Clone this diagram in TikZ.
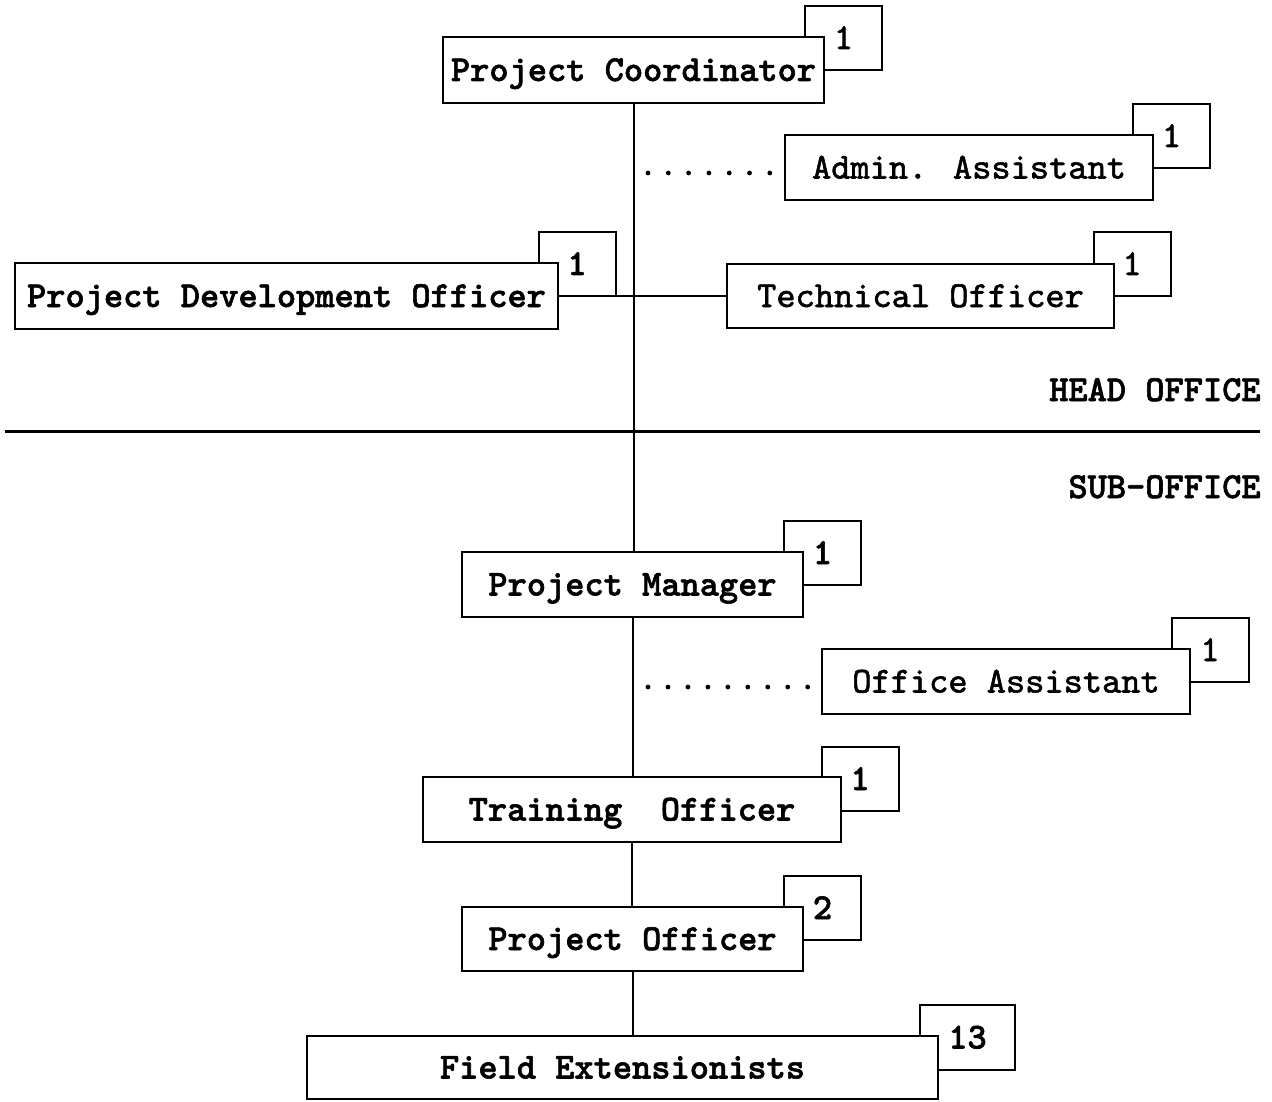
\documentclass[tikz,border=0pt]{standalone}
\usepackage{fontspec}
\newfontfamily\lmttmed[FakeBold=1.6]{lmmono10-regular.otf}
\newfontfamily\lmttbold[FakeBold=1.6]{lmmonolt10-bold.otf}
\tikzset{
  x=0.5pt, y=-0.5pt,
  basebox/.style={draw, line width=1pt, fill=white, inner sep=0pt, text height=11pt, text depth=0pt},
  mainbold/.style={basebox, font=\fontsize{18.3}{22}\selectfont\lmttbold},
  mainmed/.style={basebox, font=\fontsize{18.3}{22}\selectfont\lmttmed},
  cntbold/.style={mainbold, minimum width=38.5pt, minimum height=32pt},
  cntmed/.style={mainmed, minimum width=38.5pt, minimum height=32pt},
  conn/.style={line width=1pt},
  dotconn/.style={line width=2.4pt, line cap=round},
  sectionlabel/.style={font=\fontsize{18.3}{22}\selectfont\lmttbold, inner sep=0pt, anchor=base east}
}
\begin{document}
\begin{tikzpicture}
\useasboundingbox (0,0) rectangle (1272,1101);

% count boxes (behind)
\node[cntmed]  (cPC)  at (843.5,38)  {1};
\node[cntmed]  (cAA)  at (1171.5,136) {1};
\node[cntbold] (cPDO) at (577,264)   {1};
\node[cntmed]  (cTO)  at (1132,264)  {1};
\node[cntbold] (cPM)  at (822.5,553) {1};
\node[cntmed]  (cOA)  at (1210,650)  {1};
\node[cntbold] (cTrO) at (860,779)   {1};
\node[cntbold] (cPO)  at (822.5,908) {2};
\node[cntbold, minimum width=47.5pt, minimum height=32.5pt] (cFE) at (967.5,1037.5) {13};

% main boxes
\node[mainbold, minimum width=190.5pt, minimum height=33pt]   (PC)  at (633.5,70)    {Project Coordinator};
\node[mainmed,  minimum width=184pt,   minimum height=32.5pt] (AA)  at (969,167.5)   {Admin. Assistant};
\node[mainbold, minimum width=271.5pt, minimum height=33pt]   (PDO) at (286.5,296)   {Project Development Officer};
\node[mainmed,  minimum width=193.5pt, minimum height=32pt]   (TO)  at (920.5,296)   {Technical Officer};
\node[mainbold, minimum width=170.5pt, minimum height=32.5pt] (PM)  at (632.5,584.5) {Project Manager};
\node[mainmed,  minimum width=184pt,   minimum height=32.5pt] (OA)  at (1006,681.5)  {Office Assistant};
\node[mainbold, minimum width=209pt,   minimum height=32.5pt] (TrO) at (632,809.5)   {Training\ \ Officer};
\node[mainbold, minimum width=170.5pt, minimum height=32pt]   (PO)  at (632.5,939)   {Project Officer};
\node[mainbold, minimum width=315.5pt, minimum height=31.5pt] (FE)  at (622.5,1067.5) {Field Extensionists};

% trunk
\draw[conn] (PC.south) -- (PC.south |- PM.north);
\draw[conn] (PM.south) -- (PM.south |- TrO.north);
\draw[conn] (TrO.south) -- (TrO.south |- PO.north);
\draw[conn] (PO.south) -- (PO.south |- FE.north);

% side branch
\draw[conn] (PDO.east) -- (TO.west);

% dotted links
\coordinate (jAA) at (633,173);
\coordinate (jOA) at (633,687);
\draw[dotconn, dash pattern=on 0pt off 10.15pt, shorten <=7.5pt, shorten >=6.5pt] (jAA) -- (AA.west |- jAA);
\draw[dotconn, dash pattern=on 0pt off 9.98pt, shorten <=7.5pt, shorten >=6pt] (jOA) -- (OA.west |- jOA);

% separator
\coordinate (sepL) at (5,431);
\coordinate (sepR) at (1260,431);
\draw[line width=1.5pt] (sepL) -- (sepR);

\node[sectionlabel] (head) at (1261,401) {HEAD OFFICE};
\node[sectionlabel] (sub)  at (1261,498) {SUB-OFFICE};
\end{tikzpicture}
\end{document}
